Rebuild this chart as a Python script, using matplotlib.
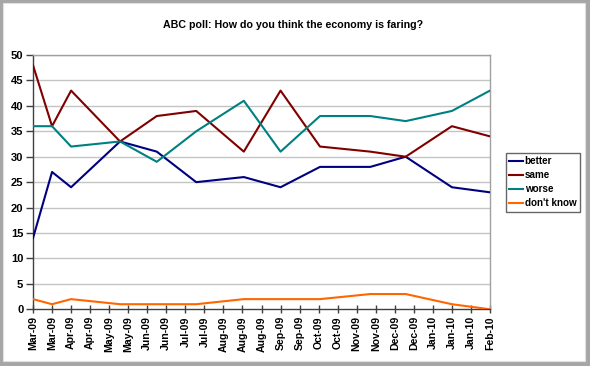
import numpy as np
import matplotlib
matplotlib.use("Agg")
import matplotlib.pyplot as plt
import matplotlib.dates as mdates
from matplotlib.patches import Rectangle

plt.rcParams['font.family'] = ['Liberation Sans', 'DejaVu Sans']

title = "ABC poll: How do you think the economy is faring?"
dates = np.array(['2009-03-15', '2009-03-29', '2009-04-12', '2009-05-18', '2009-06-14',
                  '2009-07-13', '2009-08-17', '2009-09-13', '2009-10-12', '2009-11-18',
                  '2009-12-14', '2010-01-17', '2010-02-14'], dtype='datetime64[D]')
better = [14, 27, 24, 33, 31, 25, 26, 24, 28, 28, 30, 24, 23]
same = [48, 36, 43, 33, 38, 39, 31, 43, 32, 31, 30, 36, 34]
worse = [36, 36, 32, 33, 29, 35, 41, 31, 38, 38, 37, 39, 43]
dont_know = [2, 1, 2, 1, 1, 1, 2, 2, 2, 3, 3, 1, 0]
series_names = ['better', 'same', 'worse', "don't know"]
colors = ['#000080', '#800000', '#008080', '#FF6600']

x_start = np.datetime64('2009-03-15')
x_end = np.datetime64('2010-02-14')
yticks = np.arange(0, 51, 5)

fig = plt.figure(figsize=(5.9, 3.66), dpi=100)
fig.patch.set_facecolor('#a6a6a6')
fig.patches.append(Rectangle((3/590, 1-361/366), 582/590, 358/366,
                             transform=fig.transFigure, facecolor='white',
                             edgecolor='#e0e0e0', linewidth=0.8, zorder=-5))

ax = fig.add_axes([33/590, 1-309.3/366, 457/590, 254.3/366])
ax.set_facecolor('white')
for yv in yticks[1:]:
    ax.axhline(yv, color='#c4c4c4', lw=1.0, zorder=1)

xd = dates.astype(object)
for vals, name, c in zip([better, same, worse, dont_know], series_names, colors):
    ax.plot(xd, vals, color=c, lw=1.5, label=name, zorder=3)

ax.set_xlim(x_start.astype(object), x_end.astype(object))
ax.set_ylim(0, 50)
ax.set_yticks(yticks)
ticks = np.arange(x_start, x_end + np.timedelta64(1, 'D'), np.timedelta64(14, 'D'))
ax.set_xticks(ticks.astype(object))
ax.xaxis.set_major_formatter(mdates.DateFormatter('%b-%y'))
for lab in ax.get_xticklabels():
    lab.set_rotation(90)
    lab.set_fontweight('bold')
    lab.set_fontsize(7.6)
for lab in ax.get_yticklabels():
    lab.set_fontweight('bold')
    lab.set_fontsize(8)
ax.tick_params(axis='y', direction='out', length=5, width=1, color='#404040', pad=2)
ax.tick_params(axis='x', direction='inout', length=6, width=1, color='#404040', pad=2)

for s in ['top', 'right']:
    ax.spines[s].set_color('#a0a0a0')
    ax.spines[s].set_linewidth(1.0)
for s in ['left', 'bottom']:
    ax.spines[s].set_color('#404040')
    ax.spines[s].set_linewidth(1.0)

fig.text(293/590, 1-24.5/366, title, ha='center', va='center',
         fontsize=7.7, fontweight='bold')

leg = fig.legend(*ax.get_legend_handles_labels(), loc='upper left',
                 bbox_to_anchor=(505.5/590, 1-153/366),
                 frameon=True, fancybox=False,
                 prop={'weight': 'bold', 'size': 7.1}, handlelength=1.4,
                 handletextpad=0.2, borderpad=0.35, labelspacing=0.4,
                 borderaxespad=0)
leg.get_frame().set_edgecolor('#404040')
leg.get_frame().set_linewidth(1.0)

fig.savefig('out.png', dpi=100, facecolor=fig.get_facecolor())
